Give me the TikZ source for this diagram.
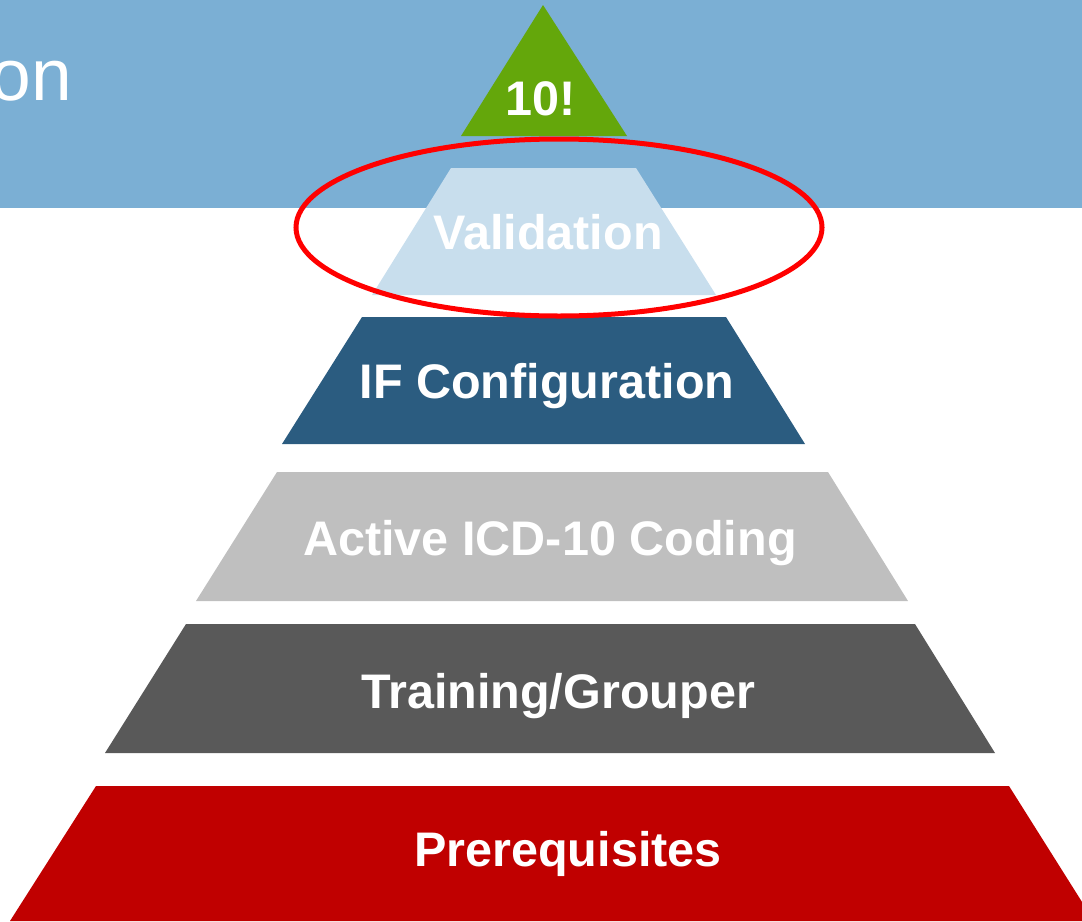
\documentclass[tikz,border=0pt]{standalone}
\usepackage{fontspec}
\setmainfont{Liberation Sans}
\definecolor{banner}{HTML}{7BAFD4}
\definecolor{topgreen}{HTML}{64A70B}
\definecolor{lvalid}{HTML}{C8DEED}
\definecolor{ifblue}{HTML}{2B5C80}
\definecolor{lgray}{HTML}{BFBFBF}
\definecolor{dgray}{HTML}{595959}
\definecolor{prered}{HTML}{C00000}
\definecolor{ringred}{HTML}{FF0000}
\tikzset{
  lbl/.style={text=white, font=\fontsize{13.8pt}{16pt}\selectfont\bfseries, inner sep=0pt, anchor=base},
}
\begin{document}
\begin{tikzpicture}[x=0.01cm,y=-0.01cm]
\useasboundingbox (0,0) rectangle (1082,921);
\clip (0,0) rectangle (1082,921);
% banner
\fill[banner] (0,0) rectangle (1082,208);
\node[text=white, font=\fontsize{20.8pt}{24pt}\selectfont, inner sep=0pt, anchor=base east] (title) at (73,100) {on};
% layers
\fill[topgreen] (543,5) -- (627,136) -- (461,136) -- cycle;
\fill[lvalid] (451,168) -- (636,168) -- (716,295) -- (372,295) -- cycle;
\fill[ifblue] (362,317) -- (726,317) -- (805,444) -- (282,444) -- cycle;
\fill[lgray] (277,472) -- (828,472) -- (908,601) -- (196,601) -- cycle;
\fill[dgray] (186,624) -- (915,624) -- (995,753) -- (105,753) -- cycle;
\fill[prered] (96,786) -- (1009,786) -- (1094,921) -- (10,921) -- cycle;
% labels
\node[lbl] (l10) at (541,115) {10!};
\node[lbl] (lval) at (548,249) {Validation};
\node[lbl] (lif) at (547,398) {IF Configuration};
\node[lbl] (lact) at (550,555) {Active ICD-10 Coding};
\node[lbl] (ltrain) at (558,708) {Training/Grouper};
\node[lbl] (lpre) at (568,866) {Prerequisites};
% ring
\draw[ringred, line width=0.05cm] (559,227.5) ellipse [x radius=263, y radius=88.5];
\end{tikzpicture}
\end{document}
